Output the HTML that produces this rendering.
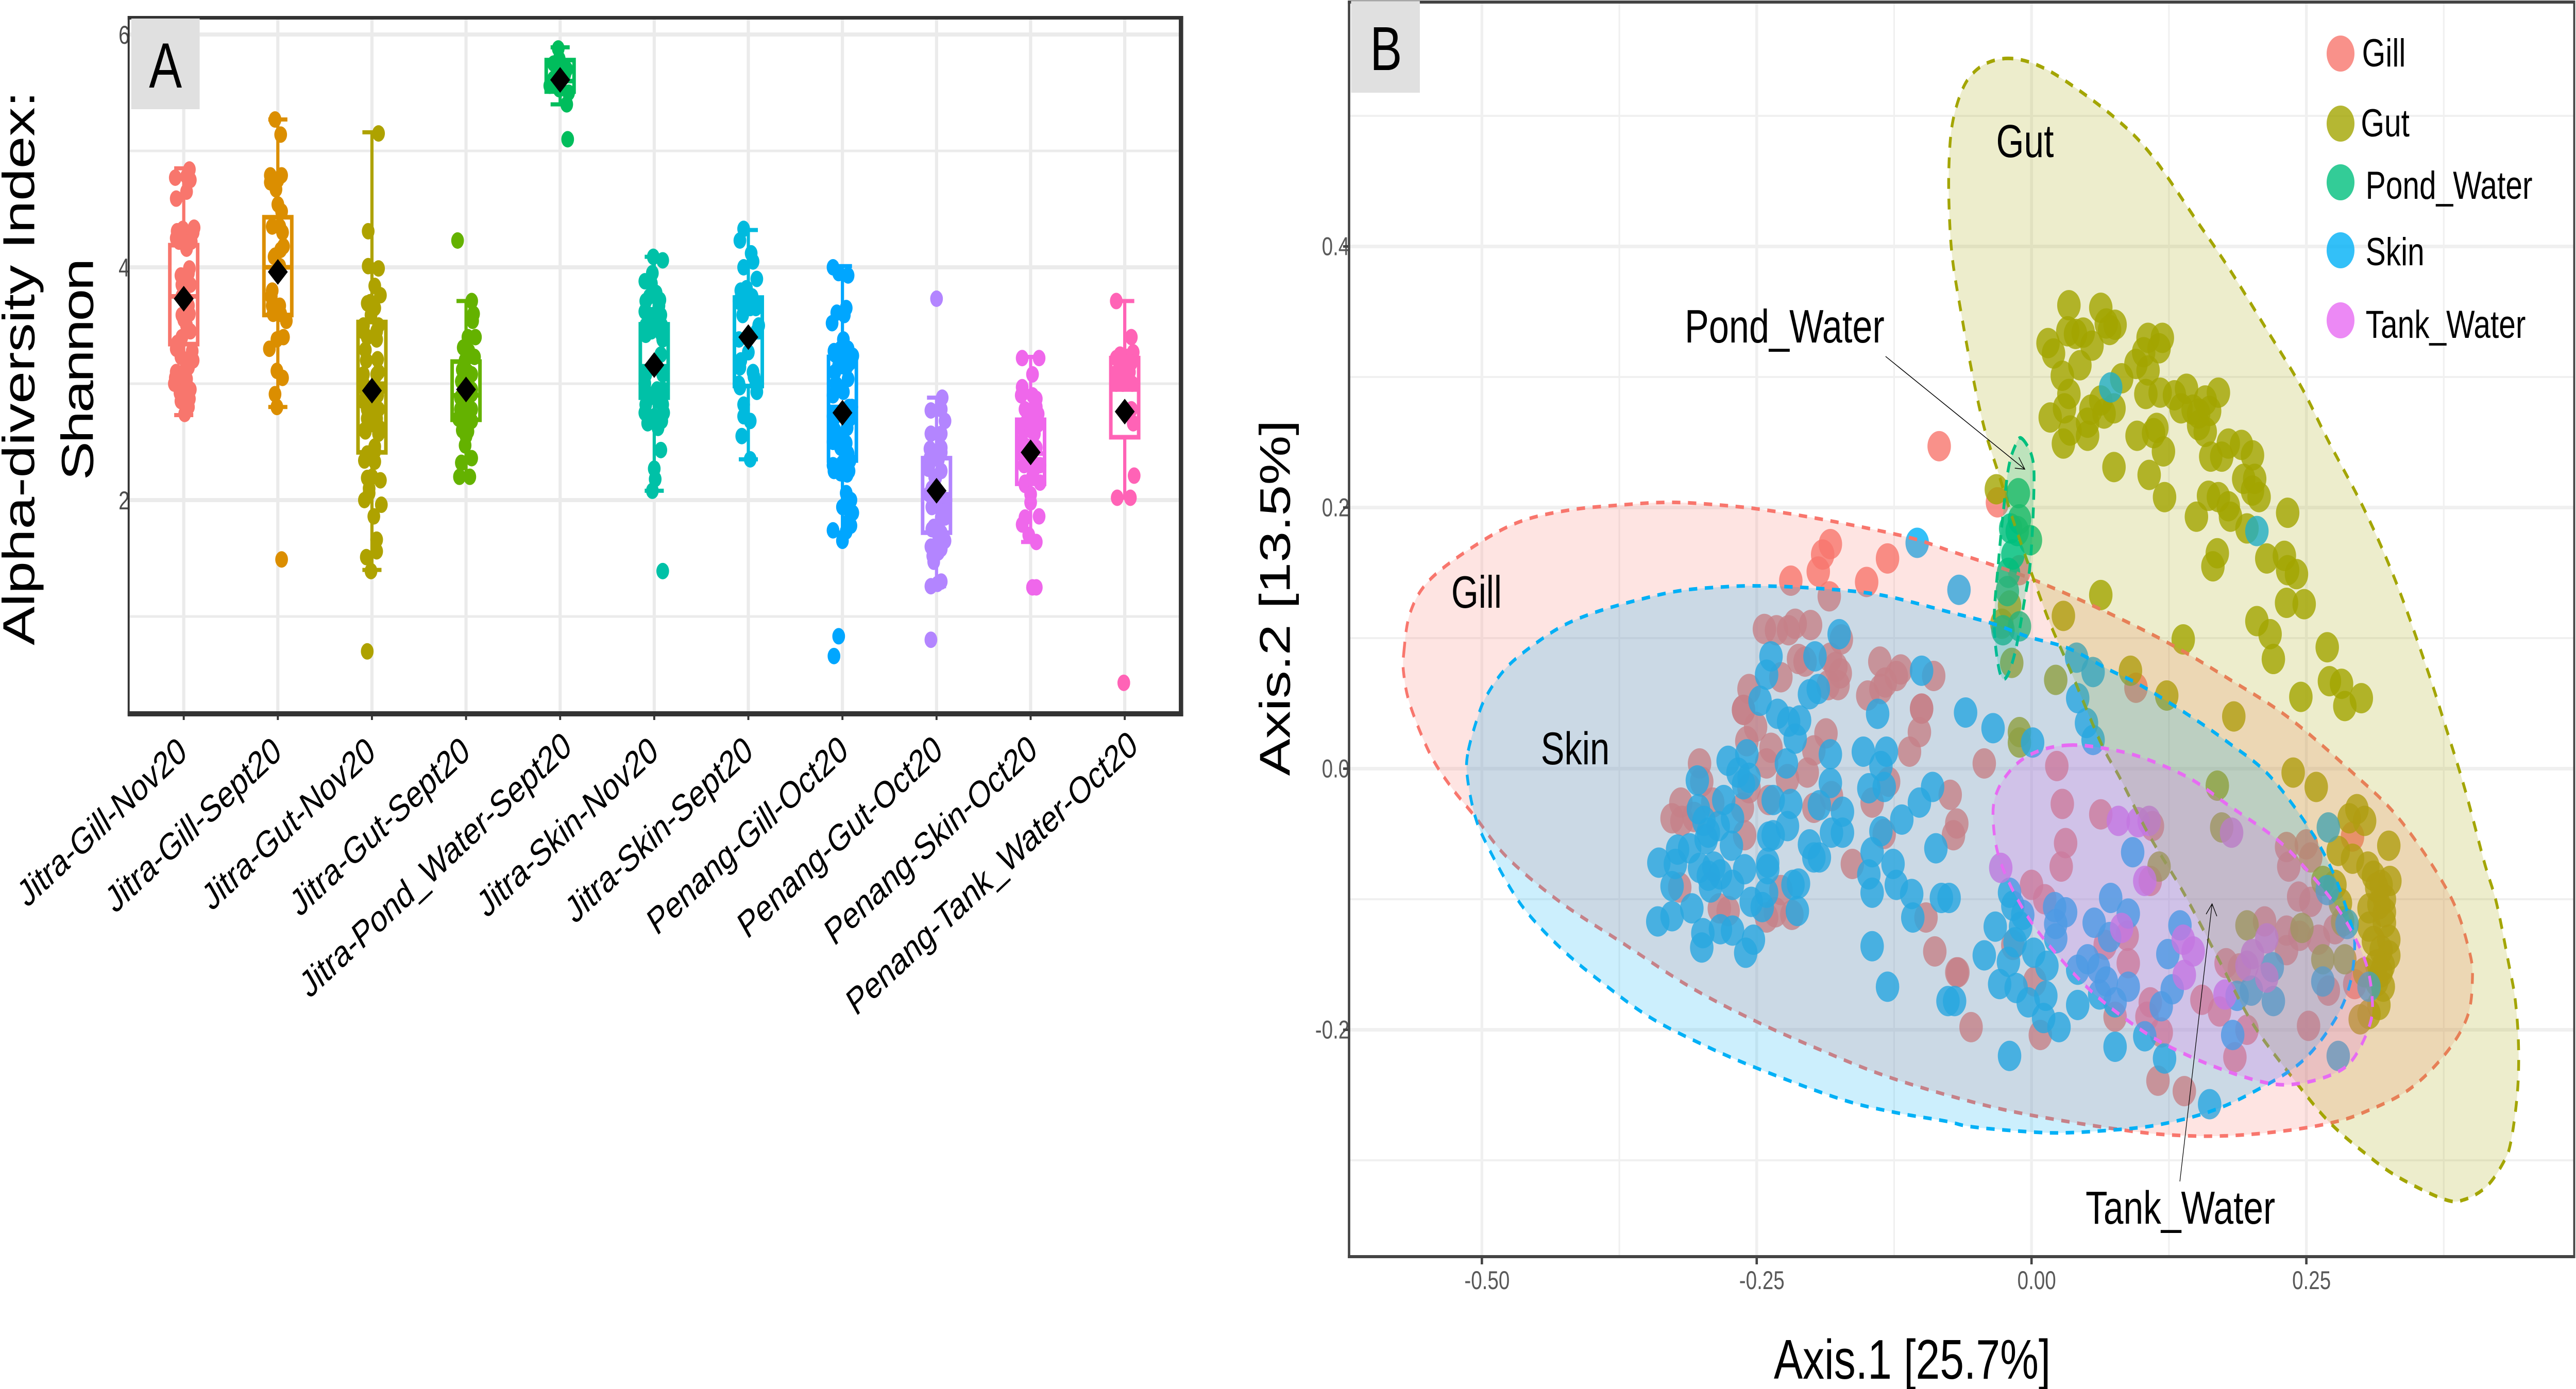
<!DOCTYPE html>
<html lang="en">
<head>
<meta charset="utf-8">
<title>Alpha-diversity and ordination chart</title>
<style>
html,body{margin:0;padding:0;background:#fff;width:100%;height:100%;overflow:hidden;}
svg{display:block;width:100vw;height:100vh;}
text{font-family:"Liberation Sans",sans-serif;}
</style>
</head>
<body>
<svg id="fig" xmlns="http://www.w3.org/2000/svg" viewBox="0 0 6477 2697" preserveAspectRatio="none">
  <rect x="0" y="0" width="6477" height="2697" fill="#fff"/>

  <g id="panelA">
    <g id="aGrid"></g>
    <g id="aBoxes"></g>
    <g id="aPoints"></g>
    <g id="aMeans"></g>
    <g id="aYLabels"></g>
    <rect x="321" y="31" width="5" height="1359" fill="#333"/>
    <rect x="321" y="31" width="2654" height="7" fill="#333"/>
    <rect x="2964" y="31" width="11" height="1359" fill="#333"/>
    <rect x="321" y="1381" width="2654" height="10" fill="#333"/>
    <g id="aTicks"></g>
    <g id="aXLabels"></g>
    <rect x="330" y="36" width="172" height="176" fill="#e0e0e0"/>
    <text x="416" y="170" font-size="124" text-anchor="middle" fill="#000">A</text>
    <text transform="translate(86,715) rotate(-90)" font-size="113" text-anchor="middle" fill="#000" textLength="1076">Alpha-diversity Index:</text>
    <text transform="translate(234,717) rotate(-90)" font-size="113" text-anchor="middle" fill="#000" textLength="431">Shannon</text>
  </g>

  <g id="panelB">
    <g id="bGrid"></g>
    <g id="bPoints"></g>
    <g id="bEllipses"></g>
    <g id="bYLabels"></g>
    <g id="bXLabels"></g>
    <rect x="3389" y="2" width="6" height="2441" fill="#444"/>
    <rect x="3389" y="1" width="3086" height="6" fill="#444"/>
    <rect x="6470" y="1" width="5" height="2442" fill="#444"/>
    <rect x="3389" y="2437" width="3086" height="6" fill="#444"/>
    <g id="bTicks"></g>
    <rect x="3397" y="2" width="173" height="178" fill="#e0e0e0"/>
    <text x="3485" y="136" font-size="121" text-anchor="middle" fill="#000">B</text>

    <text x="3649" y="1180" font-size="88" fill="#000">Gill</text>
    <text x="3874" y="1484" font-size="89" fill="#000">Skin</text>
    <text x="5019" y="305" font-size="90" fill="#000">Gut</text>
    <text x="4236" y="665" font-size="91" fill="#000">Pond_Water</text>
    <text x="5244" y="2376" font-size="90" fill="#000">Tank_Water</text>
    <path d="M4741 692L5091 911M5066 909L5091 911L5076 888" fill="none" stroke="#000" stroke-width="1.6"/>
    <path d="M5481 2294L5562 1755M5547 1775L5562 1755L5574 1779" fill="none" stroke="#000" stroke-width="1.6"/>

    <g>
      <circle cx="5885" cy="104" r="35" fill="#F8766D" fill-opacity=".8"/>
      <circle cx="5885" cy="240" r="35" fill="#A3A500" fill-opacity=".8"/>
      <circle cx="5885" cy="354" r="35" fill="#00BF7D" fill-opacity=".8"/>
      <circle cx="5885" cy="486" r="35" fill="#00B0F6" fill-opacity=".8"/>
      <circle cx="5885" cy="622" r="35" fill="#E76BF3" fill-opacity=".8"/>
      <text x="5939" y="129" font-size="76" fill="#000">Gill</text>
      <text x="5936" y="265" font-size="76" fill="#000">Gut</text>
      <text x="5948" y="386" font-size="76" fill="#000">Pond_Water</text>
      <text x="5948" y="515" font-size="76" fill="#000">Skin</text>
      <text x="5948" y="656" font-size="76" fill="#000">Tank_Water</text>
    </g>

    <text x="4808" y="2677" font-size="109" text-anchor="middle" fill="#000" textLength="696">Axis.1 [25.7%]</text>
    <text transform="translate(3243,1161) rotate(-90)" font-size="108" text-anchor="middle" fill="#000" textLength="691">Axis.2 [13.5%]</text>
  </g>
</svg>

<script>
/* ---------- Panel A data ---------- */
const categories = ["Jitra-Gill-Nov20","Jitra-Gill-Sept20","Jitra-Gut-Nov20","Jitra-Gut-Sept20","Jitra-Pond_Water-Sept20","Jitra-Skin-Nov20","Jitra-Skin-Sept20","Penang-Gill-Oct20","Penang-Gut-Oct20","Penang-Skin-Oct20","Penang-Tank_Water-Oct20"];
const whiskerHigh = [4.85,5.27,5.16,3.71,5.89,4.09,4.32,4.01,2.88,3.23,3.71];
const upperQuartile = [4.19,4.43,3.53,3.19,5.78,3.51,3.74,3.23,2.36,2.69,3.22];
const medians = [3.75,4.0,3.0,2.9,5.6,3.15,3.4,2.8,2.05,2.4,2.95];
const lowerQuartile = [3.34,3.59,2.41,2.69,5.51,2.88,2.98,2.34,1.72,2.14,2.54];
const whiskerLow = [2.73,2.80,1.40,2.20,5.40,2.08,2.35,1.72,1.26,1.64,2.02];
const means = [3.73,3.96,2.94,2.95,5.61,3.16,3.40,2.75,2.08,2.41,2.76];
const yTicksA = [2,4,6];
const yMinorA = [1,3,5];

/* each sample: [jitter in category units, Shannon index] */
const samplesJitraGillNov = [[.06,4.84],[-.09,4.77],[.07,4.75],[.03,4.78],[-.08,4.59],[.03,4.65],[-.07,4.31],[.11,4.34],[-.01,4.33],[.05,4.26],[-.05,4.22],[.09,4.31],[.03,4.16],[-.03,3.93],[.06,3.99],[.03,3.90],[0,3.80],[.05,3.67],[-.02,3.59],[.03,3.50],[-.07,3.35],[.09,3.28],[-.03,3.23],[.05,3.14],[-.08,3.10],[-.05,3.04],[.03,3.04],[-.04,2.92],[.06,2.87],[.01,2.74],[.07,2.95],[.1,4.3],[-.06,4.28],[.02,4.2],[.05,3.95],[-.02,3.75],[.08,3.2],[-.06,3.3],[0,3.1],[-.08,4.25],[.08,4.22],[-.02,3.85],[.07,3.85],[.03,3.72],[.06,3.6],[0,3.55],[.07,3.45],[-.02,3.4],[-.08,3.3],[.1,3.2],[-.1,3.0],[-.09,3.05],[.04,2.95],[-.03,2.85],[.05,2.8]];
const samplesJitraGillSept = [[-.03,5.27],[.03,5.14],[-.08,4.79],[.04,4.79],[0,4.75],[-.08,4.73],[-.02,4.67],[0,4.54],[.02,4.35],[.04,4.48],[.06,4.18],[-.04,4.09],[.02,4.01],[-.06,3.80],[-.06,3.67],[.02,3.67],[-.03,3.61],[.09,3.54],[.06,3.40],[-.09,3.30],[-.01,3.38],[-.01,3.11],[.05,3.05],[-.03,2.91],[-.01,2.80],[.04,1.49],[-.06,4.35],[.05,4.3],[.03,4.15],[-.03,4.1],[-.07,3.75],[.03,3.6],[-.05,3.6]];
const samplesJitraGutNov = [[.07,5.15],[-.04,4.31],[-.04,4.01],[.07,3.99],[.03,3.84],[.09,3.76],[-.05,3.69],[.03,3.65],[-.01,3.59],[-.09,3.50],[.07,3.50],[.05,3.38],[-.07,3.29],[.06,3.21],[-.09,3.08],[.05,3.08],[-.05,2.78],[.07,2.78],[-.07,2.59],[.07,2.57],[.03,2.46],[-.08,2.34],[.03,2.33],[-.05,2.19],[.09,2.17],[-.03,2.06],[-.08,2.00],[.10,1.96],[.02,1.86],[.05,1.66],[-.06,1.51],[.05,1.56],[-.01,1.39],[-.05,.70],[-.01,2.91],[-.07,2.95],[.07,2.95],[-.05,2.70],[.05,2.70],[-.09,3.45],[.05,3.45],[-.05,3.4],[-.06,3.2],[-.09,3.0],[.07,3.1],[-.09,2.85],[-.03,2.85],[.06,2.9],[-.08,2.6],[.02,2.65],[.08,2.62],[.03,2.42],[-.05,2.4],[.02,3.65],[-.02,3.7],[-.03,2.1],[0,2.2]];
const samplesJitraGutSept = [[-.09,4.23],[.06,3.71],[.08,3.60],[.07,3.54],[.02,3.40],[.10,3.40],[-.03,3.31],[.09,3.23],[-.04,3.12],[.06,3.08],[-.05,3.02],[.06,2.91],[-.06,2.78],[.06,2.78],[0,2.66],[-.08,2.70],[.02,2.59],[-.01,2.47],[.06,2.36],[-.05,2.32],[.04,2.20],[-.07,2.20],[.02,3.1],[-.03,3.0],[-.06,2.88],[.02,2.85],[.06,2.95],[-.02,2.72],[.06,2.68],[0,2.55],[-.04,2.6],[.03,3.28],[-.01,3.2]];
const samplesJitraPondSept = [[-.02,5.88],[-.01,5.79],[-.07,5.75],[.07,5.70],[-.11,5.56],[-.01,5.53],[.07,5.40],[.08,5.10],[.05,5.66],[-.07,5.62],[.02,5.72],[-.03,5.68],[.09,5.5]];
const samplesJitraSkinNov = [[-.01,4.09],[.09,4.06],[-.02,3.95],[-.10,3.88],[-.03,3.86],[-.09,3.71],[.05,3.67],[-.10,3.62],[-.01,3.59],[.07,3.59],[-.09,3.42],[.09,3.38],[-.09,3.08],[.09,3.08],[-.09,2.82],[.09,2.82],[-.05,2.70],[.08,2.68],[.03,2.66],[.07,2.43],[0,2.27],[.01,2.18],[-.02,2.08],[.09,1.39],[-.01,2.91],[-.09,2.91],[.09,2.91],[-.05,3.75],[.02,3.78],[.06,3.72],[-.07,3.6],[.03,3.5],[-.08,3.5],[.08,3.5],[-.03,3.45],[.07,3.25],[-.1,3.0],[.03,2.95],[.09,2.95],[-.05,2.88],[.05,2.85],[-.1,2.75],[0,2.72],[.1,2.75],[-.07,2.66],[.04,2.62],[.08,3.42],[-.09,3.5]];
const samplesJitraSkinSept = [[-.05,4.33],[-.09,4.23],[.03,4.12],[.05,4.05],[-.05,4.00],[.09,3.90],[-.02,3.78],[-.10,3.71],[.09,3.67],[-.06,3.59],[.11,3.50],[-.10,3.38],[0,3.27],[-.09,3.14],[.06,3.06],[-.09,2.97],[.09,2.93],[-.05,2.82],[-.05,2.72],[.02,2.68],[-.07,2.55],[.02,2.35],[-.08,3.8],[-.02,3.82],[.04,3.75],[-.09,3.7],[-.05,3.72],[.08,3.65],[.02,3.65],[.09,3.45],[-.08,3.2],[-.1,3.0],[.1,3.0],[.05,3.1],[.08,3.0]];
const samplesPenangGillOct = [[-.10,4.00],[-.04,3.95],[.06,3.93],[.04,3.65],[-.06,3.61],[-.11,3.52],[.02,3.59],[.01,3.38],[-.09,3.28],[.11,3.24],[-.04,3.16],[.08,3.18],[-.06,2.99],[.06,3.04],[.01,2.93],[-.09,2.70],[.08,2.70],[-.06,2.57],[.04,2.49],[.08,2.34],[-.09,2.25],[-.02,2.23],[.07,2.25],[.04,2.06],[.09,2.00],[0,1.94],[.11,1.89],[.06,1.81],[-.10,1.74],[.04,1.73],[-.04,.83],[-.09,.66],[-.08,3.25],[.1,3.22],[-.02,3.3],[.06,3.3],[-.08,3.1],[.05,3.15],[0,3.15],[-.07,3.0],[-.1,2.9],[.1,2.8],[.07,2.8],[-.1,2.72],[-.08,2.6],[-.04,2.55],[.05,2.62],[-.1,2.5],[-.02,2.45],[-.1,2.3],[.06,2.4],[0,2.32],[.05,2.22],[0,1.65],[.09,1.78],[.08,1.9]];
const samplesPenangGutOct = [[0,3.73],[.06,2.88],[-.06,2.77],[.05,2.78],[.09,2.68],[-.06,2.57],[.05,2.57],[-.07,2.44],[.05,2.41],[-.09,2.27],[-.01,2.19],[-.05,1.94],[.09,1.85],[-.03,1.77],[.05,1.72],[.09,1.65],[-.03,1.60],[.05,1.58],[-.03,1.47],[.05,1.30],[-.06,1.26],[.01,1.28],[-.06,.80],[-.07,2.36],[0,2.4],[.05,2.45],[-.08,2.3],[.02,2.35],[-.02,2.2],[.05,2.25],[-.05,2.1],[-.08,2.05],[.1,2.0],[0,1.95],[.08,1.9],[.05,1.85],[-.05,1.75],[.02,1.7],[-.06,1.6],[.02,1.55],[-.04,1.52]];
const samplesPenangSkinOct = [[-.09,3.22],[.09,3.22],[.02,3.08],[-.09,2.97],[-.10,2.90],[.06,2.87],[-.06,2.78],[.08,2.74],[-.08,2.61],[.04,2.57],[-.04,2.46],[.04,2.27],[-.06,2.13],[0,1.98],[-.06,1.85],[.09,1.86],[-.09,1.79],[-.02,1.70],[.06,1.64],[.02,1.25],[.06,1.25],[.02,2.9],[.06,2.8],[-.03,2.7],[.08,2.65],[-.07,2.65],[0,2.6],[-.09,2.5],[.06,2.45],[-.09,2.4],[.1,2.3],[.1,2.15],[-.06,2.15],[.02,2.2],[0,2.05],[.07,2.3],[-.07,2.3]];
const samplesPenangTankOct = [[-.09,3.71],[.07,3.40],[.09,3.27],[-.05,3.18],[.03,3.23],[-.07,3.06],[.05,3.02],[.09,2.66],[.07,2.78],[.10,2.21],[-.08,2.02],[.06,2.02],[-.01,.43],[-.01,3.16],[-.09,3.22],[-.05,3.25],[.07,3.18],[-.08,3.1],[-.04,3.1],[.05,3.1],[-.09,3.0],[-.02,3.0],[.08,3.0],[.04,3.03]];
const samplesByCategory = [samplesJitraGillNov,samplesJitraGillSept,samplesJitraGutNov,samplesJitraGutSept,samplesJitraPondSept,samplesJitraSkinNov,samplesJitraSkinSept,samplesPenangGillOct,samplesPenangGutOct,samplesPenangSkinOct,samplesPenangTankOct];

/* ---------- Panel B data: [Axis.1, Axis.2] ---------- */
const xTicksB = [-0.50,-0.25,0.00,0.25];
const xTickLabelsB = ["-0.50","-0.25","0.00","0.25"];
const xMinorB = [-0.375,-0.125,0.125,0.375];
const yTicksB = [0.4,0.2,0.0,-0.2];
const yTickLabelsB = ["0.4","0.2","0.0","-0.2"];
const yMinorB = [0.5,0.3,0.1,-0.1,-0.3];

const gillPoints = [[-.084,.247],[-.183,.172],[-.190,.164],[-.194,.151],[-.219,.144],[-.131,.161],[-.150,.143],[-.184,.132],[-.243,.107],[-.232,.106],[-.221,.106],[-.215,.111],[-.201,.110],[-.173,.099],[-.212,.084],[-.206,.082],[-.183,.085],[-.178,.078],[-.174,.073],[-.176,.064],[-.185,.064],[-.228,.070],[-.257,.061],[-.262,.045],[-.138,.082],[-.119,.076],[-.123,.071],[-.133,.066],[-.137,.061],[-.149,.056],[-.089,.071],[-.100,.046],[-.262,.045],[-.251,.032],[-.259,.021],[-.237,.016],[-.241,.004],[-.187,.027],[-.198,.014],[-.204,-.003],[-.222,-.008],[-.198,-.030],[-.182,-.021],[-.239,-.024],[-.257,-.015],[-.263,-.030],[-.302,.004],[-.300,-.010],[-.319,-.026],[-.327,-.038],[-.318,-.040],[-.307,-.037],[-.290,-.026],[-.261,-.051],[-.163,-.073],[-.134,-.050],[-.130,-.010],[-.145,-.026],[-.111,.013],[-.102,.028],[-.100,.046],[-.088,-.140],[-.096,-.114],[-.067,-.156],[-.320,-.091],[-.284,-.107],[-.241,-.114],[-.233,-.110],[-.218,-.112],[-.276,-.109],[-.228,-.093],[-.043,.004],[-.074,-.020],[-.068,-.042],[-.071,-.051],[.023,.002],[.028,-.027],[.063,-.035],[.031,-.057],[.027,-.075],[0,-.089],[.012,-.100],[.110,-.044],[.108,-.086],[-.068,-.156],[-.055,-.198],[.003,-.163],[.008,-.204],[-.017,-.135],[.067,-.135],[.087,-.128],[.088,-.149],[.076,-.190],[.108,-.179],[.105,-.190],[.118,-.202],[.115,-.239],[.139,-.247],[.155,-.177],[.171,-.186],[.177,-.149],[.196,-.200],[.185,-.221],[.212,-.117],[.232,-.124],[.232,-.139],[.189,-.153],[.244,-.128],[.261,-.131],[.232,-.060],[.250,-.058],[.254,-.068],[.234,-.075],[.243,-.098],[.254,-.102],[.270,-.170],[.252,-.197],[.292,-.052],[.276,-.123],[.294,-.165],[.095,.062],[-.031,.204],[-.011,.152]];
const gutPoints = [[.034,.355],[.063,.353],[.033,.335],[.068,.341],[.076,.340],[.071,.336],[.015,.326],[.040,.333],[.047,.334],[.055,.324],[.020,.318],[.044,.309],[.028,.301],[.034,.287],[.030,.276],[.017,.269],[.035,.259],[.029,.249],[.051,.265],[.051,.255],[.054,.275],[.063,.282],[.075,.276],[.066,.272],[.082,.299],[.095,.310],[.102,.319],[.106,.330],[.119,.330],[.116,.322],[.106,.305],[.104,.287],[.117,.288],[.130,.286],[.141,.291],[.136,.276],[.147,.275],[.152,.272],[.158,.282],[.162,.274],[.170,.288],[.152,.263],[.158,.258],[.114,.261],[.096,.255],[.111,.257],[.120,.243],[.075,.231],[.107,.225],[.121,.208],[.163,.239],[.173,.239],[.179,.249],[.191,.248],[.201,.240],[.193,.222],[.203,.222],[.201,.213],[.207,.208],[.161,.209],[.170,.208],[.179,.201],[.181,.193],[.150,.193],[.196,.184],[.233,.196],[.169,.165],[.165,.155],[.214,.161],[.230,.163],[.233,.152],[.241,.149],[.232,.127],[.248,.126],[.205,.113],[.217,.103],[.220,.084],[.269,.093],[.271,.067],[.282,.065],[.300,.054],[.285,.048],[.245,.055],[.138,.099],[.063,.133],[.029,.117],[-.032,.214],[-.020,.125],[-.027,.111],[-.018,.081],[.022,.068],[.090,.075],[.123,.056],[-.011,.028],[-.011,.020],[.184,.040],[.238,-.003],[.259,-.014],[.296,-.031],[.289,-.038],[.303,-.040],[.325,-.059],[.279,-.063],[.292,-.069],[.306,-.075],[.326,-.086],[.265,-.086],[.276,-.089],[.314,-.091],[.321,-.100],[.281,-.103],[.307,-.107],[.321,-.110],[.325,-.131],[.283,-.117],[.307,-.121],[.318,-.139],[.320,-.151],[.265,-.146],[.285,-.146],[.303,-.156],[.314,-.163],[.320,-.167],[.316,-.181],[.307,-.188],[.299,-.192],[.116,-.075],[.169,-.013],[.173,-.045],[.196,-.120],[.246,-.122],[.311,-.082],[.318,-.089],[.316,-.104],[.321,-.118],[.311,-.132],[.325,-.143],[.314,-.150],[.318,-.156]];
const pondPoints = [[-.012,.211],[-.011,.191],[-.019,.184],[-.013,.182],[-.001,.175],[-.017,.164],[-.021,.150],[-.022,.136],[-.026,.106],[-.011,.109]];
const skinPoints = [[-.104,.173],[-.175,.103],[-.237,.086],[-.197,.086],[-.241,.072],[-.194,.061],[-.202,.057],[-.247,.052],[-.100,.075],[-.140,.042],[-.066,.137],[-.231,.042],[-.221,.036],[-.211,.037],[-.215,.023],[-.183,.011],[-.223,.004],[-.259,.011],[-.276,.006],[-.267,-.003],[-.257,-.007],[-.262,-.012],[-.304,-.009],[-.183,-.011],[-.153,.013],[-.132,.013],[-.137,.002],[-.148,-.015],[-.134,-.014],[-.090,-.014],[-.102,-.026],[-.118,-.039],[-.137,-.048],[-.145,-.064],[-.126,-.073],[-.148,-.081],[-.145,-.095],[-.123,-.089],[-.109,-.096],[-.108,-.114],[-.145,-.136],[-.131,-.167],[-.087,-.061],[-.082,-.099],[-.076,-.178],[-.172,-.033],[-.172,-.049],[-.182,-.049],[-.193,-.028],[-.202,-.058],[-.193,-.068],[-.198,-.068],[-.219,-.027],[-.235,-.024],[-.222,-.044],[-.235,-.051],[-.239,-.052],[-.240,-.072],[-.240,-.077],[-.241,-.095],[-.212,-.088],[-.217,-.089],[-.213,-.109],[-.255,-.102],[-.245,-.106],[-.261,-.077],[-.273,-.059],[-.272,-.038],[-.280,-.024],[-.303,-.031],[-.294,-.049],[-.298,-.040],[-.296,-.054],[-.285,-.044],[-.311,-.061],[-.322,-.062],[-.324,-.073],[-.339,-.072],[-.302,-.076],[-.289,-.075],[-.283,-.081],[-.294,-.082],[-.292,-.091],[-.327,-.090],[-.272,-.089],[-.309,-.107],[-.327,-.113],[-.340,-.117],[-.299,-.126],[-.300,-.137],[-.283,-.123],[-.272,-.124],[-.253,-.131],[-.260,-.141],[-.060,.043],[-.035,.031],[.001,.020],[.042,.054],[.050,.035],[.056,.022],[.041,.085],[.056,.074],[.270,-.045],[.092,-.064],[-.020,-.095],[-.017,-.105],[-.008,-.112],[-.033,-.121],[-.010,-.121],[-.043,-.143],[-.015,-.133],[.002,-.141],[-.021,-.148],[.014,-.151],[-.029,-.165],[-.014,-.168],[-.003,-.179],[.013,-.174],[.011,-.191],[.025,-.198],[-.020,-.220],[-.070,-.178],[-.075,-.099],[.042,-.181],[.021,-.106],[.031,-.110],[.022,-.119],[.022,-.130],[.042,-.154],[.051,-.146],[.061,-.153],[.068,-.163],[.062,-.173],[.076,-.179],[.088,-.167],[.072,-.099],[.088,-.111],[.057,-.118],[.071,-.129],[.076,-.213],[.103,-.205],[.121,-.222],[.162,-.257],[.135,-.120],[.124,-.142],[.128,-.169],[.118,-.182],[.187,-.174],[.200,-.170],[.219,-.152],[.220,-.178],[.183,-.204],[.265,-.163],[.269,-.093],[.287,-.119],[.307,-.167],[.279,-.220],[.072,.292],[.205,.182]];
const tankPoints = [[-.028,-.076],[.079,-.040],[.097,-.041],[.107,-.040],[.103,-.086],[.082,-.122],[.138,-.131],[.147,-.140],[.139,-.158],[.176,-.173],[.214,-.130],[.201,-.142],[.196,-.151],[.214,-.160],[.182,-.049]];

const gillOutline = [[-.571,.089],[-.565,.120],[-.547,.145],[-.506,.171],[-.466,.189],[-.421,.198],[-.373,.202],[-.329,.204],[-.285,.202],[-.241,.198],[-.178,.189],[-.111,.177],[-.075,.167],[-.039,.157],[.001,.145],[.063,.122],[.125,.096],[.179,.069],[.234,.039],[.292,-.003],[.336,-.040],[.380,-.096],[.398,-.139],[.401,-.163],[.396,-.191],[.376,-.219],[.343,-.246],[.303,-.263],[.274,-.271],[.234,-.277],[.183,-.281],[.136,-.281],[.085,-.277],[-.003,-.265],[-.064,-.253],[-.134,-.235],[-.196,-.214],[-.252,-.193],[-.311,-.167],[-.373,-.133],[-.429,-.102],[-.477,-.068],[-.506,-.037],[-.528,-.014],[-.547,.011],[-.565,.048],[-.571,.072]];
const gutOutline = [[-.019,.544],[-.039,.541],[-.054,.532],[-.064,.518],[-.072,.494],[-.075,.465],[-.075,.430],[-.072,.391],[-.064,.349],[-.054,.303],[-.043,.261],[-.030,.226],[-.017,.191],[-.001,.152],[.016,.113],[.034,.078],[.063,.020],[.081,-.008],[.107,-.051],[.139,-.096],[.172,-.149],[.201,-.195],[.234,-.233],[.270,-.270],[.307,-.297],[.336,-.314],[.376,-.330],[.394,-.330],[.414,-.320],[.429,-.302],[.436,-.286],[.442,-.248],[.443,-.212],[.440,-.177],[.434,-.149],[.423,-.103],[.412,-.072],[.394,-.015],[.376,.034],[.360,.076],[.332,.142],[.303,.198],[.270,.251],[.245,.293],[.212,.339],[.179,.384],[.150,.420],[.110,.469],[.078,.497],[.034,.525],[.005,.539]];
const pondOutline = [[-.009,.253],[.001,.237],[.002,.208],[-.001,.159],[-.006,.131],[-.015,.089],[-.024,.069],[-.030,.078],[-.034,.113],[-.030,.159],[-.026,.194],[-.021,.230],[-.015,.247]];
const skinOutline = [[-.513,.011],[-.513,-.008],[-.506,-.037],[-.495,-.059],[-.473,-.093],[-.455,-.114],[-.425,-.140],[-.392,-.163],[-.348,-.190],[-.300,-.211],[-.248,-.230],[-.174,-.253],[-.126,-.263],[-.078,-.270],[-.057,-.274],[-.021,-.277],[.023,-.279],[.070,-.277],[.114,-.273],[.161,-.263],[.201,-.248],[.245,-.225],[.274,-.195],[.289,-.167],[.294,-.135],[.289,-.114],[.274,-.079],[.252,-.045],[.216,-.005],[.179,.020],[.143,.041],[.099,.064],[.070,.076],[.034,.092],[-.003,.101],[-.035,.111],[-.075,.120],[-.137,.133],[-.193,.138],[-.248,.140],[-.285,.139],[-.322,.136],[-.359,.129],[-.396,.120],[-.425,.110],[-.451,.096],[-.477,.078],[-.495,.057],[-.504,.039]];
const tankOutline = [[.034,.018],[.063,.016],[.099,.009],[.143,-.007],[.179,-.028],[.223,-.054],[.252,-.079],[.281,-.110],[.303,-.146],[.310,-.177],[.307,-.198],[.292,-.223],[.274,-.234],[.245,-.241],[.216,-.241],[.172,-.230],[.128,-.214],[.096,-.198],[.059,-.174],[.030,-.149],[-.003,-.114],[-.028,-.072],[-.035,-.037],[-.030,-.015],[-.013,.004],[.008,.014]];

/* ---------- Axis functions ---------- */
const xA = i => 462 + 236.6 * i;
const yA = v => 971 - (v - 2) * 226;
const xB = v => 5108 + v * 2764;
const yB = v => 1492.5 - v * 2535;

const colorsA = ["#F8766D","#DB8E00","#AEA200","#64B200","#00BD5C","#00C1A7","#00BADE","#00A6FF","#B385FF","#EF67EB","#FF63B6"];
const SVGNS = "http://www.w3.org/2000/svg";

function make(parentId, tag, attrs) {
  const e = document.createElementNS(SVGNS, tag);
  for (const k in attrs) e.setAttribute(k, attrs[k]);
  document.getElementById(parentId).appendChild(e);
  return e;
}

/* ---------- Panel A drawing ---------- */
yMinorA.forEach(v => {
  const l = make("aGrid", "line", {x1: 326, x2: 2964, y1: yA(v), y2: yA(v), stroke: "#EBEBEB", "stroke-width": 5});
  
  
});
yTicksA.forEach(v => {
  const l = make("aGrid", "line", {x1: 326, x2: 2964, y1: yA(v), y2: yA(v), stroke: "#EBEBEB", "stroke-width": 8});
  
  
  const t = make("aYLabels", "text", {x: 326, y: yA(v) + 18, "font-size": 50, "text-anchor": "end", fill: "#4d4d4d"});
  t.textContent = String(v);
  
  
});
categories.forEach((name, i) => {
  const cx = xA(i), col = colorsA[i];
  const g = make("aGrid", "line", {x1: cx, x2: cx, y1: 38, y2: 1381, stroke: "#EBEBEB", "stroke-width": 8});
  
  

  const whisker = make("aBoxes", "line", {x1: cx, x2: cx, y1: yA(whiskerHigh[i]), y2: yA(whiskerLow[i]), stroke: col, "stroke-width": 8});
  
  
  const capHigh = make("aBoxes", "line", {x1: cx - 24, x2: cx + 24, y1: yA(whiskerHigh[i]), y2: yA(whiskerHigh[i]), stroke: col, "stroke-width": 8});
  
  
  const capLow = make("aBoxes", "line", {x1: cx - 24, x2: cx + 24, y1: yA(whiskerLow[i]), y2: yA(whiskerLow[i]), stroke: col, "stroke-width": 8});
  
  
  const box = make("aBoxes", "rect", {x: cx - 35, width: 70, y: yA(upperQuartile[i]), height: yA(lowerQuartile[i]) - yA(upperQuartile[i]), fill: "#fff", stroke: col, "stroke-width": 9});
  
  
  const med = make("aBoxes", "line", {x1: cx - 35, x2: cx + 35, y1: yA(medians[i]), y2: yA(medians[i]), stroke: col, "stroke-width": 9});
  
  

  samplesByCategory[i].forEach(p => {
    const c = make("aPoints", "circle", {cx: xA(i + p[0]), cy: yA(p[1]), r: 16, fill: col});
    
    
  });

  const my = yA(means[i]);
  const d = make("aMeans", "polygon", {points: (cx - 25) + "," + my + " " + cx + "," + (my - 25) + " " + (cx + 25) + "," + my + " " + cx + "," + (my + 25), fill: "#000"});
  
  

  const tk = make("aTicks", "line", {x1: cx, x2: cx, y1: 1388, y2: 1398, stroke: "#333", "stroke-width": 5});
  
  

  const lab = make("aXLabels", "text", {"font-size": 73, "text-anchor": "end", fill: "#000"});
  lab.textContent = name;
  
  
  const L = lab.getComputedTextLength();
  lab.setAttribute("transform", "translate(" + (cx - 21 + 0.066 * L) + "," + (1485 - 0.033 * L) + ") rotate(-36)");
});

/* ---------- Panel B drawing ---------- */
yMinorB.forEach(v => {
  const l = make("bGrid", "line", {x1: 3392, x2: 6472, y1: yB(v), y2: yB(v), stroke: "#F0F0F0", "stroke-width": 4});
  
  
});
xMinorB.forEach(v => {
  const l = make("bGrid", "line", {x1: xB(v), x2: xB(v), y1: 4, y2: 2440, stroke: "#F0F0F0", "stroke-width": 4});
  
  
});
yTicksB.forEach((v, i) => {
  const l = make("bGrid", "line", {x1: 3392, x2: 6472, y1: yB(v), y2: yB(v), stroke: "#F0F0F0", "stroke-width": 7});
  
  
  const t = make("bYLabels", "text", {x: 3393, y: yB(v) + 17, "font-size": 50, "text-anchor": "end", fill: "#595959"});
  t.textContent = yTickLabelsB[i];
  
  
  const tk = make("bTicks", "line", {x1: 3377, x2: 3392, y1: yB(v), y2: yB(v), stroke: "#444", "stroke-width": 5});
  
  
});
xTicksB.forEach((v, i) => {
  const l = make("bGrid", "line", {x1: xB(v), x2: xB(v), y1: 4, y2: 2440, stroke: "#F0F0F0", "stroke-width": 7});
  
  
  const t = make("bXLabels", "text", {x: xB(v) + 13, y: 2503, "font-size": 50, "text-anchor": "middle", fill: "#595959"});
  t.textContent = xTickLabelsB[i];
  
  
  const tk = make("bTicks", "line", {x1: xB(v), x2: xB(v), y1: 2440, y2: 2455, stroke: "#444", "stroke-width": 6});
  
  
});

function drawPoints(points, color) {
  points.forEach(p => {
    const c = make("bPoints", "circle", {cx: xB(p[0]), cy: yB(p[1]), r: 29.5, fill: color, "fill-opacity": 0.8});
    
    
  });
}
drawPoints(gillPoints, "#F8766D");
drawPoints(gutPoints, "#A3A500");
drawPoints(pondPoints, "#00BF7D");
drawPoints(skinPoints, "#00B0F6");
drawPoints(tankPoints, "#E76BF3");

function smoothClosedPath(outline) {
  const pts = outline.map(p => [xB(p[0]), yB(p[1])]);
  const n = pts.length;
  let d = "M" + pts[0][0] + " " + pts[0][1];
  for (let i = 0; i < n; i++) {
    const p0 = pts[(i - 1 + n) % n], p1 = pts[i], p2 = pts[(i + 1) % n], p3 = pts[(i + 2) % n];
    d += "C" + (p1[0] + (p2[0] - p0[0]) / 6) + " " + (p1[1] + (p2[1] - p0[1]) / 6) + " " +
         (p2[0] - (p3[0] - p1[0]) / 6) + " " + (p2[1] - (p3[1] - p1[1]) / 6) + " " + p2[0] + " " + p2[1];
  }
  return d + "Z";
}
function drawEllipse(outline, color, width, dash) {
  const e = make("bEllipses", "path", {d: smoothClosedPath(outline), fill: color, "fill-opacity": 0.2, stroke: color, "stroke-width": width, "stroke-dasharray": dash});
  return e;
}
const gillEllipse = drawEllipse(gillOutline, "#F8766D", 7, "21 19");


const gutEllipse = drawEllipse(gutOutline, "#A3A500", 7, "21 19");


const pondEllipse = drawEllipse(pondOutline, "#00BF7D", 7, "21 15");


const skinEllipse = drawEllipse(skinOutline, "#00B0F6", 7, "21 19");


const tankEllipse = drawEllipse(tankOutline, "#E76BF3", 7, "21 19");


</script>
</body>
</html>
